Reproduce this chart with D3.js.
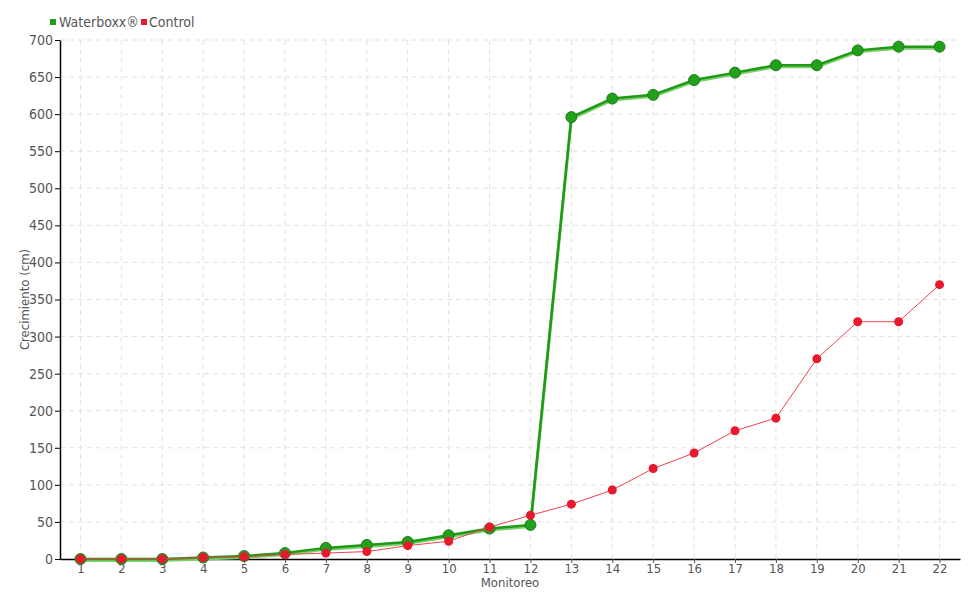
<!DOCTYPE html>
<html>
<head>
<meta charset="utf-8">
<script src="https://cdn.jsdelivr.net/npm/d3@7"></script>
<style>
  body { margin: 0; background: #fff; }
  text { font-family: "DejaVu Sans Condensed", "DejaVu Sans", sans-serif; font-stretch: condensed; fill: #555; }
</style>
</head>
<body>
<div id="chart"></div>
<script>
let monitoreo = d3.range(1, 23);
let waterboxx = [0, 0, 0, 2, 4, 8, 15, 19, 23, 32, 41, 46, 596, 621, 626, 646, 656, 666, 666, 686, 691, 691];
let control = [0, 0, 0, 2, 3, 6, 8, 10, 18, 24, 43, 59, 74, 93, 122, 143, 173, 190, 270, 320, 320, 370];
let y_ticks = d3.range(0, 701, 50);

let width = 980;
let height = 600;
let margin = { top: 40, right: 20, bottom: 41, left: 60 };

let svg = d3.select("#chart")
	.append("svg")
	.attr("width", width)
	.attr("height", height);

let x = d3.scalePoint()
	.domain(monitoreo)
	.range([margin.left, width - margin.right])
	.padding(0.5);

let y = d3.scaleLinear()
	.domain([0, 700])
	.range([height - margin.bottom, margin.top]);

// grid
svg.append("g")
	.selectAll("line")
	.data(y_ticks.slice(1))
	.enter()
	.append("line")
	.attr("x1", margin.left)
	.attr("x2", width - margin.right)
	.attr("y1", d => y(d))
	.attr("y2", d => y(d))
	.attr("stroke", "#e2e2e2")
	.attr("stroke-dasharray", "5,4");

svg.append("g")
	.selectAll("line")
	.data(monitoreo)
	.enter()
	.append("line")
	.attr("x1", d => x(d))
	.attr("x2", d => x(d))
	.attr("y1", margin.top)
	.attr("y2", height - margin.bottom)
	.attr("stroke", "#e2e2e2")
	.attr("stroke-dasharray", "5,4");

// axes
svg.append("g")
	.attr("transform", "translate(" + margin.left + ",0)")
	.call(d3.axisLeft(y).tickValues(y_ticks).tickSizeInner(5).tickSizeOuter(0).tickPadding(2))
	.call(g => g.selectAll(".tick text").attr("font-size", 14).attr("font-family", null).attr("fill", "#555"))
	.call(g => g.select(".domain").attr("stroke", "#000").attr("stroke-width", 1.5));

svg.append("g")
	.attr("transform", "translate(0," + (height - margin.bottom) + ")")
	.call(d3.axisBottom(x).tickSizeInner(4).tickSizeOuter(0).tickPadding(1))
	.call(g => g.selectAll(".tick text").attr("font-size", 13).attr("font-family", null).attr("fill", "#555"))
	.call(g => g.selectAll(".tick line").attr("stroke", "#555"))
	.call(g => g.select(".domain").attr("stroke", "#000").attr("stroke-width", 1.5));

svg.append("text")
	.attr("transform", "translate(29," + ((margin.top + height - margin.bottom) / 2) + ") rotate(-90)")
	.attr("text-anchor", "middle")
	.attr("font-size", 13)
	.text("Crecimiento (cm)");

svg.append("text")
	.attr("x", (margin.left + width - margin.right) / 2)
	.attr("y", 587)
	.attr("text-anchor", "middle")
	.attr("font-size", 13)
	.text("Monitoreo");

let line = d3.line()
	.x((d, i) => x(monitoreo[i]))
	.y(d => y(d));

// waterboxx series
svg.append("path")
	.datum(waterboxx)
	.attr("d", line)
	.attr("fill", "none")
	.attr("stroke", "#7ccf6e")
	.attr("stroke-width", 3)
	.attr("transform", "translate(0,1.5)");

svg.append("path")
	.datum(waterboxx)
	.attr("d", line)
	.attr("fill", "none")
	.attr("stroke", "#1e9a14")
	.attr("stroke-width", 2.5);

svg.selectAll(".wb-dot")
	.data(waterboxx)
	.enter()
	.append("circle")
	.attr("cx", (d, i) => x(monitoreo[i]))
	.attr("cy", d => y(d))
	.attr("r", 5.5)
	.attr("fill", "#21a01a")
	.attr("stroke", "#217a1c")
	.attr("stroke-width", 1);

// control series
svg.append("path")
	.datum(control)
	.attr("d", line)
	.attr("fill", "none")
	.attr("stroke", "#f2404f")
	.attr("stroke-width", 1);

svg.selectAll(".ctl-dot")
	.data(control)
	.enter()
	.append("circle")
	.attr("cx", (d, i) => x(monitoreo[i]))
	.attr("cy", d => y(d))
	.attr("r", 4.5)
	.attr("fill", "#e8192c");

// legend
let legend = svg.append("g").attr("transform", "translate(50,22)");
legend.append("rect").attr("x", 0).attr("y", -3).attr("width", 6).attr("height", 6).attr("fill", "#21a01a");
legend.append("text").attr("x", 9).attr("y", 5).attr("font-size", 14).text("Waterboxx®");
legend.append("rect").attr("x", 91).attr("y", -3).attr("width", 6).attr("height", 6).attr("fill", "#e8192c");
legend.append("text").attr("x", 99).attr("y", 5).attr("font-size", 14).text("Control");
</script>
</body>
</html>
